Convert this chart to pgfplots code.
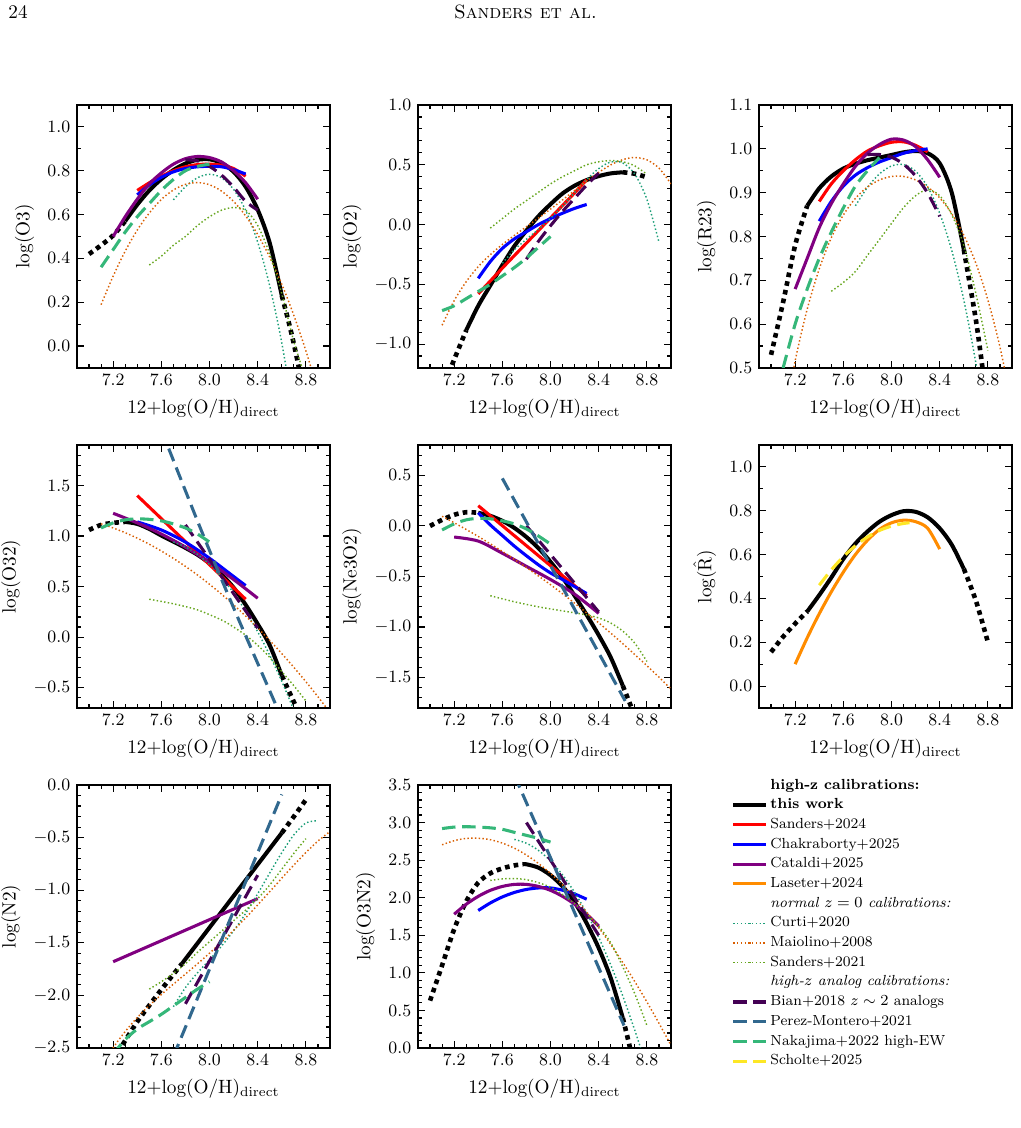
\documentclass[border=0pt]{standalone}
\usepackage{pgfplots}
\pgfplotsset{compat=1.18}

\definecolor{cpurple}{HTML}{800080}
\definecolor{claseter}{HTML}{FF8C00}
\definecolor{ccurti}{HTML}{1B9E77}
\definecolor{cmaio}{HTML}{D95F02}
\definecolor{csan}{HTML}{66A61E}
\definecolor{cbian}{HTML}{440154}
\definecolor{cpm}{HTML}{31688E}
\definecolor{cnak}{HTML}{35B779}
\definecolor{csch}{HTML}{FDE725}

\pgfplotsset{
  panel/.style={
    scale only axis, width=131.56pt, height=136.76pt, anchor=south west,
    xmin=6.9, xmax=9.0,
    xtick={7.2,7.6,8.0,8.4,8.8},
    minor xtick={7.0,7.1,7.3,7.4,7.5,7.7,7.8,7.9,8.1,8.2,8.3,8.5,8.6,8.7,8.9},
    tick align=inside, tick pos=both,
    major tick length=3.6pt, minor tick length=2pt,
    every tick/.style={black, line width=0.6pt},
    axis line style={black, line width=0.75pt},
    scaled ticks=false,
    xticklabel style={/pgf/number format/.cd, fixed, fixed zerofill, precision=1},
    yticklabel style={/pgf/number format/.cd, fixed, fixed zerofill, precision=1},
    tick label style={font=\fontsize{8.8}{10}\selectfont},
    label style={font=\fontsize{10}{12}\selectfont},
    xlabel={12+log(O/H)$_{\mathrm{direct}}$},
    no markers,
  },
  % this work: solid in the calibrated range, dotted where extrapolated
  thissol/.style={black, line width=2.1pt, smooth, solid},
  thisdot/.style={black, line width=2.4pt, smooth, dash pattern=on 2.4pt off 2.2pt},
  % other high-z calibrations
  hz/.style={line width=1.6pt, smooth, solid},
  sa24/.style={hz, red},
  ch25/.style={hz, blue},
  ca25/.style={hz, cpurple},
  la24/.style={hz, claseter},
  % normal z=0 calibrations
  zz/.style={line width=0.75pt, smooth, dash pattern=on 0.75pt off 1.2pt},
  cu20/.style={zz, ccurti},
  ma08/.style={zz, cmaio},
  sa21/.style={zz, csan},
  % high-z analog calibrations
  an/.style={line width=1.6pt, smooth, dash pattern=on 7pt off 3.5pt},
  bi18/.style={an, cbian},
  pm21/.style={an, cpm},
  na22/.style={an, cnak},
  sc25/.style={an, csch},
}

\begin{document}
\begin{tikzpicture}
\path[use as bounding box] (0pt,0pt) rectangle (530.4pt,586.56pt);
\node[anchor=base west, inner sep=0pt, font=\fontsize{10}{12}\selectfont] at (4.2pt,577pt) {24};
\node[anchor=base, inner sep=0pt, font=\fontsize{10}{12}\selectfont] at (273.3pt,577pt) {\textsc{Sanders et al.}};

% ---------------- log(O3) ----------------
\begin{axis}[panel, at={(40.04pt,395.2pt)},
  ymin=-0.1, ymax=1.1, ytick={0,0.2,0.4,0.6,0.8,1.0},
  minor ytick={-0.1,0.1,0.3,0.5,0.7,0.9,1.1}, ylabel={log(O3)}]
\addplot[thisdot] coordinates {(7.0,0.42)(7.1,0.46)(7.2,0.505)(7.3,0.57)};
\addplot[thissol] coordinates {(7.3,0.57)(7.4,0.645)(7.5,0.71)(7.6,0.762)(7.7,0.803)(7.8,0.833)(7.9,0.85)(8.0,0.852)(8.1,0.835)(8.2,0.795)(8.3,0.727)(8.4,0.622)(8.5,0.47)(8.6,0.23)};
\addplot[thisdot] coordinates {(8.6,0.23)(8.65,0.125)(8.7,0.01)(8.75,-0.12)};
\addplot[sa24] coordinates {(7.4,0.71)(7.5,0.745)(7.6,0.775)(7.7,0.80)(7.8,0.818)(7.9,0.828)(8.0,0.83)(8.1,0.825)(8.2,0.81)(8.3,0.775)};
\addplot[ch25] coordinates {(7.4,0.69)(7.5,0.735)(7.6,0.77)(7.7,0.795)(7.8,0.81)(7.9,0.818)(8.0,0.82)(8.1,0.818)(8.2,0.805)(8.3,0.785)};
\addplot[ca25] coordinates {(7.2,0.50)(7.3,0.59)(7.4,0.67)(7.5,0.74)(7.6,0.79)(7.7,0.83)(7.8,0.855)(7.9,0.865)(8.0,0.86)(8.1,0.84)(8.2,0.80)(8.3,0.745)(8.4,0.67)};
\addplot[cu20] coordinates {(7.7,0.667)(7.8,0.727)(7.9,0.768)(8.0,0.784)(8.1,0.768)(8.2,0.715)(8.3,0.619)(8.4,0.474)(8.5,0.274)(8.6,0.014)(8.7,-0.313)};
\addplot[ma08] coordinates {(7.1,0.189)(7.2,0.319)(7.3,0.433)(7.4,0.529)(7.5,0.607)(7.6,0.669)(7.7,0.712)(7.8,0.738)(7.9,0.746)(8.0,0.736)(8.1,0.707)(8.2,0.660)(8.3,0.594)(8.4,0.509)(8.5,0.405)(8.6,0.282)(8.7,0.140)(8.8,-0.022)(8.9,-0.204)};
\addplot[sa21] coordinates {(7.5,0.37)(7.6,0.41)(7.7,0.46)(7.8,0.50)(7.9,0.55)(8.0,0.59)(8.1,0.62)(8.2,0.632)(8.3,0.62)(8.4,0.55)(8.5,0.42)(8.6,0.24)(8.7,0.02)(8.8,-0.15)};
\addplot[bi18] coordinates {(7.8,0.85)(7.9,0.845)(8.0,0.82)(8.1,0.78)(8.2,0.725)(8.3,0.66)(8.4,0.62)};
\addplot[na22] coordinates {(7.1,0.36)(7.2,0.44)(7.3,0.52)(7.4,0.59)(7.5,0.65)(7.6,0.71)(7.7,0.76)(7.8,0.80)(7.9,0.82)(8.0,0.83)};
\end{axis}

% ---------------- log(O2) ----------------
\begin{axis}[panel, at={(217.36pt,395.2pt)},
  ymin=-1.2, ymax=1.0, ytick={-1.0,-0.5,0,0.5,1.0},
  minor ytick={-1.2,-1.1,-0.9,-0.8,-0.7,-0.6,-0.4,-0.3,-0.2,-0.1,0.1,0.2,0.3,0.4,0.6,0.7,0.8,0.9},
  ylabel={log(O2)}]
\addplot[thisdot] coordinates {(7.1,-1.38)(7.2,-1.13)(7.3,-0.885)};
\addplot[thissol] coordinates {(7.3,-0.885)(7.4,-0.68)(7.5,-0.51)(7.6,-0.34)(7.7,-0.18)(7.8,-0.05)(7.9,0.07)(8.0,0.17)(8.1,0.26)(8.2,0.325)(8.3,0.372)(8.4,0.405)(8.5,0.428)(8.6,0.437)};
\addplot[thisdot] coordinates {(8.6,0.437)(8.7,0.425)(8.8,0.395)};
\addplot[sa24] coordinates {(7.4,-0.58)(7.6,-0.365)(7.8,-0.155)(8.0,0.055)(8.2,0.265)(8.3,0.375)};
\addplot[ch25] coordinates {(7.4,-0.45)(7.5,-0.31)(7.6,-0.20)(7.7,-0.12)(7.8,-0.06)(7.9,0.0)(8.0,0.05)(8.1,0.095)(8.2,0.135)(8.3,0.168)};
\addplot[cu20] coordinates {(7.6,-0.324)(7.7,-0.211)(7.8,-0.123)(7.9,-0.040)(8.0,0.053)(8.1,0.156)(8.2,0.267)(8.3,0.376)(8.4,0.468)(8.5,0.523)(8.6,0.515)(8.7,0.421)(8.8,0.211)(8.9,-0.146)};
\addplot[ma08] coordinates {(7.1,-0.842)(7.2,-0.637)(7.3,-0.478)(7.4,-0.352)(7.5,-0.252)(7.6,-0.167)(7.7,-0.091)(7.8,-0.018)(7.9,0.054)(8.0,0.129)(8.1,0.206)(8.2,0.285)(8.3,0.363)(8.4,0.436)(8.5,0.499)(8.6,0.543)(8.7,0.561)(8.8,0.541)(8.9,0.472)(9.0,0.340)};
\addplot[sa21] coordinates {(7.5,-0.03)(7.6,0.05)(7.7,0.13)(7.8,0.20)(7.9,0.27)(8.0,0.34)(8.1,0.40)(8.2,0.45)(8.3,0.50)(8.4,0.525)(8.5,0.535)(8.6,0.525)(8.7,0.49)(8.8,0.42)};
\addplot[bi18] coordinates {(7.8,-0.29)(7.9,-0.14)(8.0,-0.01)(8.1,0.11)(8.2,0.22)(8.3,0.33)(8.4,0.43)};
\addplot[na22] coordinates {(7.1,-0.72)(7.2,-0.68)(7.3,-0.62)(7.4,-0.56)(7.5,-0.50)(7.6,-0.43)(7.7,-0.36)(7.8,-0.28)(7.9,-0.19)(8.0,-0.10)};
\end{axis}

% ---------------- log(R23) ----------------
\begin{axis}[panel, at={(394.68pt,395.2pt)},
  ymin=0.5, ymax=1.1, ytick={0.5,0.6,0.7,0.8,0.9,1.0,1.1},
  minor ytick={0.55,0.65,0.75,0.85,0.95,1.05}, ylabel={log(R23)}]
\addplot[thisdot] coordinates {(7.0,0.53)(7.1,0.65)(7.2,0.78)(7.3,0.87)};
\addplot[thissol] coordinates {(7.3,0.87)(7.4,0.91)(7.5,0.937)(7.6,0.955)(7.7,0.966)(7.8,0.974)(7.9,0.98)(8.0,0.986)(8.1,0.992)(8.2,0.995)(8.3,0.99)(8.4,0.967)(8.5,0.90)(8.6,0.77)};
\addplot[thisdot] coordinates {(8.6,0.77)(8.7,0.61)(8.76,0.49)};
\addplot[sa24] coordinates {(7.4,0.88)(7.5,0.92)(7.6,0.95)(7.7,0.975)(7.8,0.995)(7.9,1.007)(8.0,1.015)(8.1,1.016)(8.2,1.008)(8.3,0.993)};
\addplot[ch25] coordinates {(7.4,0.835)(7.5,0.88)(7.6,0.915)(7.7,0.94)(7.8,0.957)(7.9,0.97)(8.0,0.98)(8.1,0.99)(8.2,0.996)(8.3,1.0)};
\addplot[ca25] coordinates {(7.2,0.68)(7.3,0.75)(7.4,0.82)(7.5,0.875)(7.6,0.92)(7.7,0.96)(7.8,0.99)(7.9,1.01)(8.0,1.022)(8.1,1.02)(8.2,1.005)(8.3,0.975)(8.4,0.935)};
\addplot[cu20] coordinates {(7.7,0.870)(7.8,0.912)(7.9,0.943)(8.0,0.961)(8.1,0.964)(8.2,0.949)(8.3,0.913)(8.4,0.853)(8.5,0.768)(8.6,0.655)(8.7,0.511)(8.8,0.334)};
\addplot[ma08] coordinates {(7.1,0.367)(7.2,0.516)(7.3,0.634)(7.4,0.726)(7.5,0.797)(7.6,0.849)(7.7,0.887)(7.8,0.913)(7.9,0.929)(8.0,0.937)(8.1,0.937)(8.2,0.929)(8.3,0.913)(8.4,0.888)(8.5,0.852)(8.6,0.803)(8.7,0.739)(8.8,0.655)(8.9,0.548)(9.0,0.414)};
\addplot[sa21] coordinates {(7.5,0.675)(7.6,0.695)(7.7,0.72)(7.8,0.757)(7.9,0.793)(8.0,0.83)(8.1,0.866)(8.2,0.893)(8.3,0.907)(8.4,0.893)(8.5,0.85)(8.6,0.78)(8.7,0.67)(8.8,0.54)};
\addplot[bi18] coordinates {(7.8,0.987)(7.9,0.987)(8.0,0.981)(8.1,0.965)(8.2,0.938)(8.3,0.899)(8.4,0.846)};
\addplot[na22] coordinates {(7.1,0.50)(7.2,0.60)(7.3,0.68)(7.4,0.75)(7.5,0.81)(7.6,0.865)(7.7,0.915)(7.8,0.95)(7.9,0.98)};
\end{axis}

% ---------------- log(O32) ----------------
\begin{axis}[panel, at={(40.04pt,218.4pt)},
  ymin=-0.7, ymax=1.9, ytick={-0.5,0,0.5,1.0,1.5},
  minor ytick={-0.7,-0.6,-0.4,-0.3,-0.2,-0.1,0.1,0.2,0.3,0.4,0.6,0.7,0.8,0.9,1.1,1.2,1.3,1.4,1.6,1.7,1.8,1.9},
  ylabel={log(O32)}]
\addplot[thisdot] coordinates {(7.0,1.06)(7.1,1.11)(7.2,1.13)(7.3,1.14)};
\addplot[thissol] coordinates {(7.3,1.14)(7.4,1.12)(7.5,1.07)(7.6,1.005)(7.7,0.945)(7.8,0.883)(7.9,0.815)(8.0,0.73)(8.1,0.62)(8.2,0.49)(8.3,0.32)(8.4,0.13)(8.5,-0.08)(8.6,-0.38)};
\addplot[thisdot] coordinates {(8.6,-0.38)(8.7,-0.64)(8.75,-0.77)};
\addplot[sa24] coordinates {(7.4,1.40)(8.3,0.375)};
\addplot[ch25] coordinates {(7.4,1.14)(7.6,1.06)(7.8,0.94)(8.0,0.78)(8.2,0.60)(8.3,0.51)};
\addplot[ca25] coordinates {(7.2,1.225)(7.4,1.13)(7.6,1.02)(7.8,0.89)(8.0,0.74)(8.2,0.57)(8.4,0.385)};
\addplot[cu20] coordinates {(7.7,0.942)(7.8,0.893)(7.9,0.819)(8.0,0.718)(8.1,0.591)(8.2,0.438)(8.3,0.258)(8.4,0.053)(8.5,-0.179)(8.6,-0.437)(8.7,-0.721)};
\addplot[ma08] coordinates {(7.1,1.121)(7.2,1.080)(7.3,1.033)(7.4,0.979)(7.5,0.919)(7.6,0.852)(7.7,0.779)(7.8,0.700)(7.9,0.615)(8.0,0.523)(8.1,0.425)(8.2,0.320)(8.3,0.209)(8.4,0.092)(8.5,-0.032)(8.6,-0.162)(8.7,-0.298)(8.8,-0.440)(8.9,-0.589)(9.0,-0.745)};
\addplot[sa21] coordinates {(7.5,0.375)(7.7,0.33)(7.9,0.27)(8.1,0.17)(8.2,0.10)(8.3,0.02)(8.4,-0.08)(8.5,-0.20)(8.6,-0.34)(8.7,-0.48)(8.8,-0.63)};
\addplot[bi18] coordinates {(7.8,1.11)(8.4,0.09)};
\addplot[pm21] coordinates {(7.6,2.05)(7.92,1.09)(8.2,0.29)(8.54,-0.64)(8.6,-0.80)};
\addplot[na22] coordinates {(7.1,1.08)(7.2,1.13)(7.3,1.16)(7.4,1.17)(7.5,1.165)(7.6,1.15)(7.7,1.12)(7.8,1.08)(7.9,1.02)(8.0,0.94)};
\end{axis}

% ---------------- log(Ne3O2) ----------------
\begin{axis}[panel, at={(217.36pt,218.4pt)},
  ymin=-1.8, ymax=0.8, ytick={-1.5,-1.0,-0.5,0,0.5},
  minor ytick={-1.8,-1.7,-1.6,-1.4,-1.3,-1.2,-1.1,-0.9,-0.8,-0.7,-0.6,-0.4,-0.3,-0.2,-0.1,0.1,0.2,0.3,0.4,0.6,0.7,0.8},
  ylabel={log(Ne3O2)}]
\addplot[thisdot] coordinates {(7.0,0.0)(7.1,0.06)(7.2,0.11)(7.3,0.135)(7.4,0.13)};
\addplot[thissol] coordinates {(7.4,0.13)(7.5,0.10)(7.6,0.05)(7.7,-0.02)(7.8,-0.11)(7.9,-0.22)(8.0,-0.355)(8.1,-0.51)(8.2,-0.69)(8.3,-0.88)(8.4,-1.08)(8.5,-1.30)(8.6,-1.58)};
\addplot[thisdot] coordinates {(8.6,-1.58)(8.7,-1.88)};
\addplot[sa24] coordinates {(7.4,0.20)(8.3,-0.69)};
\addplot[ch25] coordinates {(7.4,0.13)(7.5,0.01)(7.6,-0.095)(7.7,-0.20)(7.8,-0.295)(7.9,-0.385)(8.0,-0.465)(8.1,-0.53)(8.2,-0.60)(8.3,-0.668)};
\addplot[ca25] coordinates {(7.2,-0.11)(7.4,-0.15)(7.6,-0.27)(7.8,-0.40)(8.0,-0.53)(8.2,-0.675)(8.4,-0.865)};
\addplot[ma08] coordinates {(7.1,0.095)(7.2,0.031)(7.3,-0.035)(7.4,-0.104)(7.5,-0.177)(7.6,-0.252)(7.7,-0.330)(7.8,-0.411)(7.9,-0.495)(8.0,-0.581)(8.1,-0.671)(8.2,-0.764)(8.3,-0.860)(8.4,-0.958)(8.5,-1.060)(8.6,-1.164)(8.7,-1.272)(8.8,-1.382)(8.9,-1.495)(9.0,-1.612)};
\addplot[sa21] coordinates {(7.5,-0.69)(7.7,-0.75)(7.9,-0.80)(8.1,-0.84)(8.3,-0.88)(8.4,-0.91)(8.5,-0.96)(8.6,-1.04)(8.7,-1.16)(8.8,-1.34)};
\addplot[bi18] coordinates {(7.8,0.0)(8.4,-0.85)};
\addplot[pm21] coordinates {(7.6,0.47)(8.62,-1.73)};
\addplot[na22] coordinates {(7.1,-0.04)(7.2,0.02)(7.3,0.06)(7.4,0.075)(7.5,0.07)(7.6,0.05)(7.7,0.02)(7.8,-0.03)(7.9,-0.10)(8.0,-0.18)};
\end{axis}

% ---------------- log(R-hat) ----------------
\begin{axis}[panel, at={(394.68pt,218.4pt)},
  ymin=-0.1, ymax=1.1, ytick={0,0.2,0.4,0.6,0.8,1.0},
  minor ytick={-0.1,0.1,0.3,0.5,0.7,0.9,1.1}, ylabel={log($\hat{\mathrm{R}}$)}]
\addplot[thisdot] coordinates {(7.0,0.155)(7.1,0.225)(7.2,0.285)(7.3,0.34)};
\addplot[thissol] coordinates {(7.3,0.34)(7.4,0.415)(7.5,0.495)(7.6,0.58)(7.7,0.65)(7.8,0.705)(7.9,0.75)(8.0,0.78)(8.1,0.798)(8.2,0.795)(8.3,0.77)(8.4,0.72)(8.5,0.645)(8.6,0.535)};
\addplot[thisdot] coordinates {(8.6,0.535)(8.7,0.39)(8.8,0.20)};
\addplot[la24] coordinates {(7.2,0.10)(7.3,0.22)(7.4,0.33)(7.5,0.43)(7.6,0.52)(7.7,0.60)(7.8,0.665)(7.9,0.715)(8.0,0.745)(8.1,0.757)(8.2,0.75)(8.3,0.72)(8.4,0.625)};
\addplot[sc25] coordinates {(7.4,0.46)(7.5,0.53)(7.6,0.59)(7.7,0.64)(7.8,0.68)(7.9,0.71)(8.0,0.73)(8.1,0.742)(8.15,0.745)};
\end{axis}

% ---------------- log(N2) ----------------
\begin{axis}[panel, at={(40.04pt,41.6pt)},
  ymin=-2.5, ymax=0, ytick={-2.5,-2.0,-1.5,-1.0,-0.5,0},
  minor ytick={-2.4,-2.3,-2.2,-2.1,-1.9,-1.8,-1.7,-1.6,-1.4,-1.3,-1.2,-1.1,-0.9,-0.8,-0.7,-0.6,-0.4,-0.3,-0.2,-0.1},
  ylabel={log(N2)}]
\addplot[thisdot] coordinates {(7.2,-2.61)(7.3,-2.43)(7.4,-2.25)(7.5,-2.095)(7.6,-1.945)(7.7,-1.80)(7.77,-1.70)};
\addplot[thissol] coordinates {(7.77,-1.70)(8.0,-1.355)(8.2,-1.055)(8.4,-0.755)(8.6,-0.455)};
\addplot[thisdot] coordinates {(8.6,-0.455)(8.7,-0.30)(8.8,-0.14)};
\addplot[ca25] coordinates {(7.2,-1.68)(8.4,-1.08)};
\addplot[cu20] coordinates {(7.7,-2.108)(7.8,-1.926)(7.9,-1.786)(8.0,-1.660)(8.1,-1.531)(8.2,-1.386)(8.3,-1.220)(8.4,-1.034)(8.5,-0.836)(8.6,-0.643)(8.7,-0.474)(8.8,-0.361)(8.9,-0.339)};
\addplot[ma08] coordinates {(7.1,-2.682)(7.2,-2.498)(7.3,-2.343)(7.4,-2.211)(7.5,-2.096)(7.6,-1.992)(7.7,-1.893)(7.8,-1.797)(7.9,-1.700)(8.0,-1.599)(8.1,-1.493)(8.2,-1.381)(8.3,-1.263)(8.4,-1.140)(8.5,-1.014)(8.6,-0.886)(8.7,-0.761)(8.8,-0.642)(8.9,-0.533)(9.0,-0.442)};
\addplot[sa21] coordinates {(7.5,-1.94)(7.6,-1.87)(7.7,-1.79)(7.8,-1.70)(7.9,-1.59)(8.0,-1.49)(8.1,-1.39)(8.2,-1.29)(8.3,-1.19)(8.4,-1.08)(8.5,-0.95)(8.6,-0.80)(8.7,-0.65)(8.8,-0.51)};
\addplot[bi18] coordinates {(7.8,-2.08)(8.4,-0.857)};
\addplot[pm21] coordinates {(7.7,-2.58)(8.6,-0.09)};
\addplot[na22] coordinates {(7.1,-2.72)(7.2,-2.56)(7.3,-2.42)(7.4,-2.32)(7.5,-2.25)(7.6,-2.18)(7.7,-2.10)(7.8,-2.02)(7.9,-1.94)(8.0,-1.87)};
\end{axis}

% ---------------- log(O3N2) ----------------
\begin{axis}[panel, at={(217.36pt,41.6pt)},
  ymin=0, ymax=3.5, ytick={0,0.5,1.0,1.5,2.0,2.5,3.0,3.5},
  minor ytick={0.1,0.2,0.3,0.4,0.6,0.7,0.8,0.9,1.1,1.2,1.3,1.4,1.6,1.7,1.8,1.9,2.1,2.2,2.3,2.4,2.6,2.7,2.8,2.9,3.1,3.2,3.3,3.4},
  ylabel={log(O3N2)}]
\addplot[thisdot] coordinates {(7.0,0.63)(7.1,1.10)(7.2,1.58)(7.3,1.95)(7.4,2.20)(7.5,2.325)(7.6,2.39)(7.7,2.43)(7.77,2.445)};
\addplot[thissol] coordinates {(7.77,2.445)(7.8,2.445)(7.9,2.40)(8.0,2.30)(8.1,2.15)(8.2,1.94)(8.3,1.66)(8.4,1.33)(8.5,0.93)(8.6,0.40)};
\addplot[thisdot] coordinates {(8.6,0.40)(8.65,0.07)(8.7,-0.27)};
\addplot[ch25] coordinates {(7.4,1.83)(7.5,1.93)(7.6,2.01)(7.7,2.07)(7.8,2.11)(7.9,2.13)(8.0,2.13)(8.1,2.10)(8.2,2.05)(8.3,1.98)};
\addplot[ca25] coordinates {(7.2,1.78)(7.3,1.913)(7.4,2.018)(7.5,2.098)(7.6,2.15)(7.7,2.177)(7.8,2.177)(7.9,2.15)(8.0,2.098)(8.1,2.018)(8.2,1.913)(8.3,1.78)(8.4,1.622)};
\addplot[cu20] coordinates {(7.7,2.776)(7.8,2.725)(7.9,2.630)(8.0,2.489)(8.1,2.303)(8.2,2.071)(8.3,1.794)(8.4,1.472)(8.5,1.105)(8.6,0.692)(8.7,0.233)(8.75,-0.013)};
\addplot[ma08] coordinates {(7.1,2.704)(7.2,2.759)(7.3,2.789)(7.4,2.792)(7.5,2.772)(7.6,2.727)(7.7,2.659)(7.8,2.568)(7.9,2.456)(8.0,2.323)(8.1,2.171)(8.2,1.999)(8.3,1.809)(8.4,1.602)(8.5,1.377)(8.6,1.137)(8.7,0.882)(8.8,0.613)(8.9,0.330)(9.0,0.035)};
\addplot[sa21] coordinates {(7.5,2.23)(7.6,2.25)(7.7,2.255)(7.8,2.24)(7.9,2.20)(8.0,2.14)(8.1,2.04)(8.2,1.92)(8.3,1.78)(8.4,1.62)(8.5,1.40)(8.6,1.08)(8.7,0.72)(8.8,0.30)};
\addplot[bi18] coordinates {(7.8,3.0)(8.4,1.50)};
\addplot[pm21] coordinates {(7.7,3.63)(8.61,0.30)};
\addplot[na22] coordinates {(7.1,2.92)(7.2,2.94)(7.3,2.945)(7.4,2.94)(7.5,2.93)(7.6,2.91)(7.7,2.87)(7.8,2.83)(7.9,2.79)(8.0,2.74)};
\end{axis}

% ---------------- legend ----------------
\begin{axis}[at={(394.68pt,41.6pt)}, anchor=south west, scale only axis,
  width=131.56pt, height=136.76pt, hide axis,
  xmin=0, xmax=1, ymin=0, ymax=1,
  legend cell align=left,
  legend style={at={(-0.134,1.049)}, anchor=north west, draw=none, fill=none,
    font=\fontsize{7.6}{8.8}\selectfont, row sep=0.84pt,
    nodes={inner sep=1.2pt, text height=5.4pt, text depth=1.6pt}}]
\addlegendimage{empty legend}\addlegendentry{\textbf{high-z calibrations:}}
\addlegendimage{thissol}\addlegendentry{\textbf{this work}}
\addlegendimage{sa24}\addlegendentry{Sanders+2024}
\addlegendimage{ch25}\addlegendentry{Chakraborty+2025}
\addlegendimage{ca25}\addlegendentry{Cataldi+2025}
\addlegendimage{la24}\addlegendentry{Laseter+2024}
\addlegendimage{empty legend}\addlegendentry{\textit{normal $z=0$ calibrations:}}
\addlegendimage{cu20}\addlegendentry{Curti+2020}
\addlegendimage{ma08}\addlegendentry{Maiolino+2008}
\addlegendimage{sa21}\addlegendentry{Sanders+2021}
\addlegendimage{empty legend}\addlegendentry{\textit{high-$z$ analog calibrations:}}
\addlegendimage{bi18}\addlegendentry{Bian+2018 $z\sim2$ analogs}
\addlegendimage{pm21}\addlegendentry{Perez-Montero+2021}
\addlegendimage{na22}\addlegendentry{Nakajima+2022 high-EW}
\addlegendimage{sc25}\addlegendentry{Scholte+2025}
\end{axis}
\end{tikzpicture}
\end{document}
